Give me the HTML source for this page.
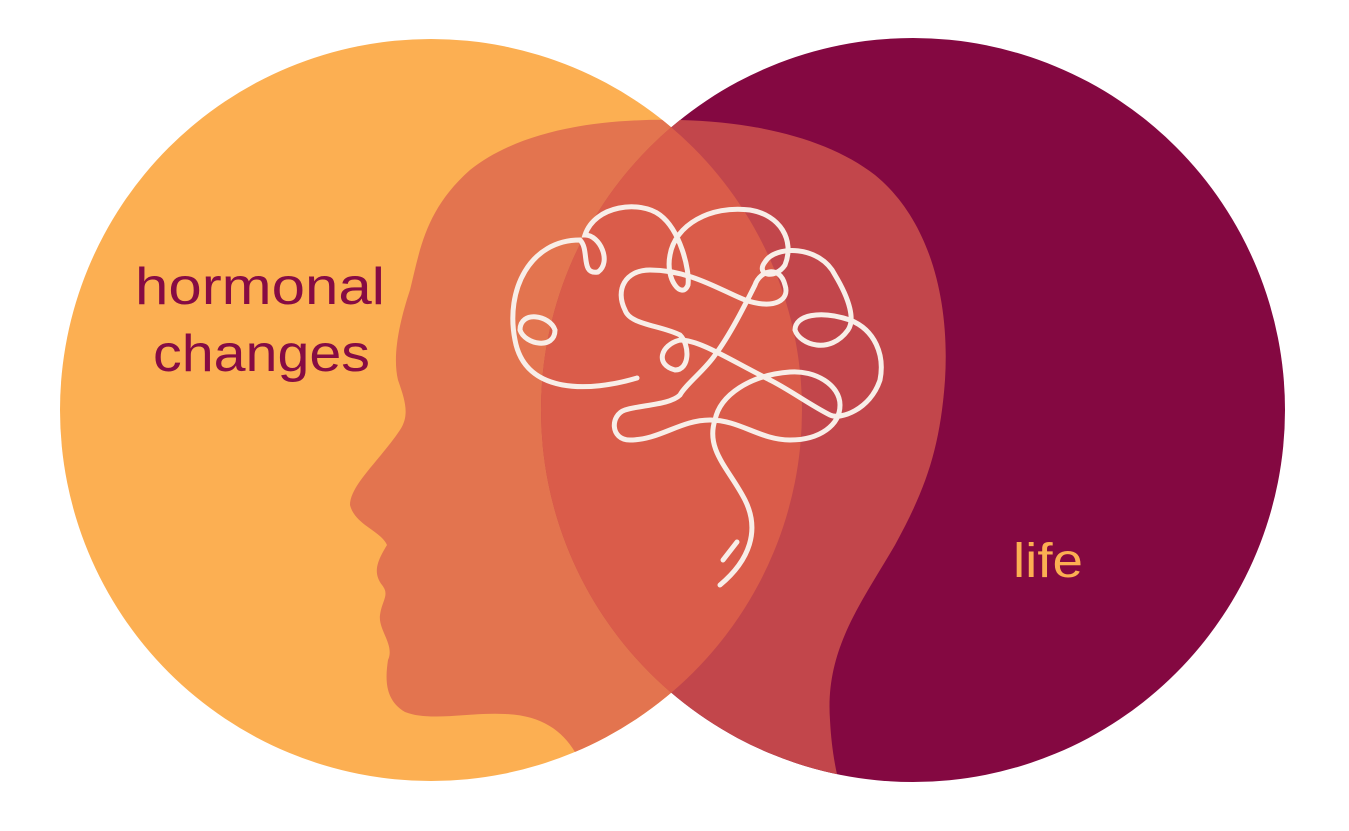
<!DOCTYPE html>
<html><head><meta charset="utf-8"><style>
html,body{margin:0;padding:0;background:#fff;}
svg{display:block}
text{font-family:"Liberation Sans",sans-serif;}
</style></head><body>
<svg width="1349" height="831" viewBox="0 0 1349 831" xmlns="http://www.w3.org/2000/svg">
<defs>
<clipPath id="cl"><circle cx="431" cy="410" r="371"/></clipPath>
<clipPath id="cr"><circle cx="913" cy="410" r="372"/></clipPath>
<path id="head" d="M575,752 C562,730 540,715 505,714 C470,712 430,722 405,712 C385,700 385,680 388,660 C395,645 378,630 380,615 C382,600 390,595 382,585 C372,572 378,560 387,545 C380,530 355,525 350,505 C350,485 380,460 400,430 C410,415 405,400 398,380 C392,355 400,320 410,290 C420,250 425,210 470,170 C520,130 600,118 680,120 C760,122 830,140 875,175 C930,220 950,300 945,380 C940,450 925,490 895,545 C860,605 825,650 830,720 C832,760 840,790 845,800 L575,800 Z"/>
<clipPath id="ch"><use href="#head"/></clipPath>
</defs>
<circle cx="431" cy="410" r="371" fill="#FCAF52"/>
<circle cx="913" cy="410" r="372" fill="#840841"/>
<g clip-path="url(#cl)"><circle cx="913" cy="410" r="372" fill="#D95C49"/></g>
<g clip-path="url(#ch)">
  <g clip-path="url(#cl)"><rect width="1349" height="831" fill="#E3744F"/></g>
  <g clip-path="url(#cr)"><rect width="1349" height="831" fill="#C2464B"/></g>
  <g clip-path="url(#cl)"><g clip-path="url(#cr)"><rect width="1349" height="831" fill="#DA5C4A"/></g></g>
</g>
<g fill="none" stroke="#F8EEE8" stroke-width="5" stroke-linecap="round">
<path d="M637,378 C590,392 525,395 515,340 C505,290 530,240 580,240 C590,250 580,275 598,272 C612,262 600,235 585,235 C595,205 640,200 660,215 C680,230 690,270 688,285 C682,300 665,280 670,255 C675,225 710,205 750,210 C780,215 795,240 785,265 C775,280 755,275 765,262 C775,245 820,245 835,275 C850,300 855,320 848,330 C830,355 800,345 795,330 C795,315 820,310 850,320 C875,330 885,355 880,380 C870,410 840,420 830,415 C810,405 790,390 770,380"/>
<path d="M520,330 C520,310 550,315 555,330 C555,350 525,345 520,330"/>
<path d="M770,380 C730,360 700,340 680,340 C660,345 655,365 675,370 C690,370 690,345 680,335 C660,325 630,325 625,310 C615,290 625,270 650,270 C690,270 720,290 745,300 C775,310 790,300 785,285 C780,265 760,270 755,285 C745,305 730,335 715,355 C705,370 685,385 680,395 C670,405 640,405 625,410 C610,415 610,440 630,440 C660,440 680,420 710,420 C740,420 760,440 790,440 C820,440 840,425 840,405 C840,385 815,370 790,372 C750,375 720,395 715,420 C705,450 730,470 745,500 C760,530 750,560 720,585"/>
<path d="M723,560 L737,542"/>
</g>
<text x="135" y="304" font-size="52" fill="#860B43" textLength="250" lengthAdjust="spacingAndGlyphs">hormonal</text>
<text x="153" y="371" font-size="52" fill="#860B43" textLength="217" lengthAdjust="spacingAndGlyphs">changes</text>
<text x="1013" y="577" font-size="48" fill="#FCAF52" textLength="70" lengthAdjust="spacingAndGlyphs">life</text>
</svg>
</body></html>
